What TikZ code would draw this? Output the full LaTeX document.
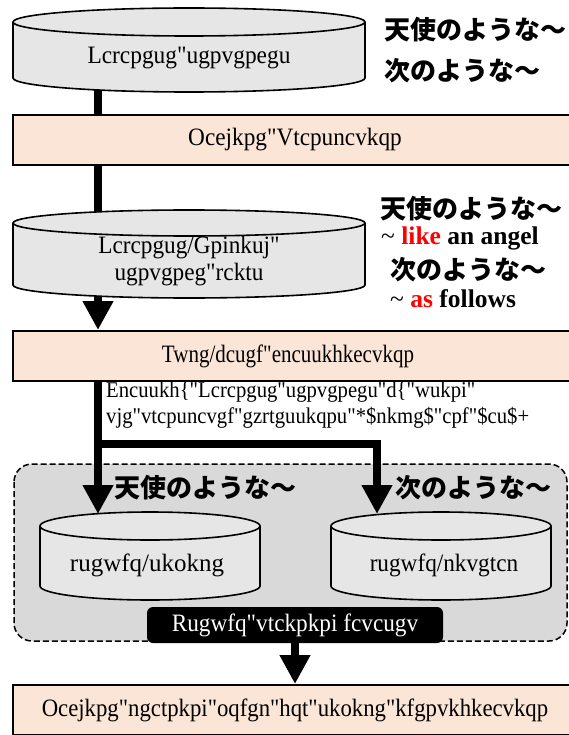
\documentclass[tikz,border=0pt]{standalone}
\usepackage{fontspec}
\usepackage{graphicx}
\setmainfont{Liberation Serif}[Ligatures=TeXOff]
\newfontfamily\jp{Noto Sans CJK JP}
\usetikzlibrary{arrows.meta}

\pgfdeclarelayer{bg}
\pgfdeclarelayer{wires}
\pgfdeclarelayer{solids}
\pgfsetlayers{bg,wires,solids,main}

\definecolor{peach}{HTML}{FBE5D6}
\definecolor{cylgray}{HTML}{E6E6E6}
\definecolor{zonegray}{HTML}{D9D9D9}

% horizontally narrowed text
\newcommand\narrow[2]{\scalebox{#1}[1]{#2}}

\tikzset{
  procbox/.style={draw=black, line width=2pt, fill=peach, minimum width=564pt,
    minimum height=50pt, inner sep=0pt, font=\fontsize{25}{28}\selectfont},
  cyltext/.style={font=\fontsize{25}{27}\selectfont, inner sep=0pt, align=center},
  jplabel/.style={font=\jp\bfseries\fontsize{26}{30}\selectfont, inner sep=0pt, anchor=west},
  enlabel/.style={font=\bfseries\fontsize{25.5}{28}\selectfont, inner sep=0pt, anchor=west},
  wire/.style={line width=8pt},
  flow/.style={line width=8pt, -{Triangle[width=29pt,length=29pt]}},
  cylline/.style={draw=black, line width=1.6pt, fill=cylgray},
  zone/.style={draw=black, line width=1.5pt, dash pattern=on 6pt off 3pt,
    fill=zonegray, rounded corners=18pt},
  darkbox/.style={fill=black, rounded corners=6pt, minimum width=296pt,
    minimum height=36pt, inner sep=0pt, text=white, font=\fontsize{25}{28}\selectfont},
}

% drum: centre x, top-ellipse y, bottom-ellipse y, x radius, y radius (y measured downward)
\newcommand\drum[5]{%
  \filldraw[cylline] (#1-#4,-#2) -- (#1-#4,-#3)
    arc[start angle=180,end angle=360,x radius=#4pt,y radius=#5pt]
    -- (#1+#4,-#2)
    arc[start angle=0,end angle=180,x radius=#4pt,y radius=#5pt] -- cycle;
  \draw[cylline, fill=none] (#1-#4,-#2)
    arc[start angle=180,end angle=360,x radius=#4pt,y radius=#5pt];
}

\begin{document}
\begin{tikzpicture}[x=1pt,y=1pt]
\useasboundingbox (0,0) rectangle (568,-735);

% grey zone holding the two pseudo data drums
\begin{pgfonlayer}{bg}
  \draw[zone] (14,-464) rectangle (567,-641);
\end{pgfonlayer}

% drums
\begin{pgfonlayer}{solids}
  \drum{189}{22}{78}{176}{14}
  \drum{189}{223}{285}{176}{13}
  \drum{150}{526}{586}{110}{14}
  \drum{441}{526}{586}{110}{14}
\end{pgfonlayer}

% drum texts
\node[cyltext] (t1) at (189,-58) {\narrow{0.935}{Lcrcpgug"ugpvgpegu}};
\node[cyltext] (t2) at (189,-261) {\narrow{0.93}{Lcrcpgug/Gpinkuj"}\\\narrow{0.93}{ugpvgpeg"rcktu}};
\node[cyltext] (t3) at (147,-565) {rugwfq/ukokng};
\node[cyltext] (t4) at (444,-565) {\narrow{0.93}{rugwfq/nkvgtcn}};

% process boxes
\node[procbox] (b1) at (295,-140) {\narrow{0.93}{Ocejkpg"Vtcpuncvkqp}};
\node[procbox] (b2) at (295,-356) {\narrow{0.84}{Twng/dcugf"encuukhkecvkqp}\hspace*{14pt}};
\node[procbox] (b3) at (295,-710) {\narrow{0.91}{Ocejkpg"ngctpkpi"oqfgn"hqt"ukokng"kfgpvkhkecvkqp}};
\node[darkbox] (bk) at (295,-625) {\narrow{0.93}{Rugwfq"vtckpkpi fcvcugv}};

% side labels
\node[jplabel] (j1) at (384,-30) {天使のような～};
\node[jplabel] (j2) at (384,-71) {次のような～};
\node[jplabel] (j3) at (380,-209) {天使のような～};
\node[enlabel] (e1) at (381,-238) {{\mdseries\textasciitilde} \textcolor{red}{like} an angel};
\node[jplabel] (j4) at (390,-270) {次のような～};
\node[enlabel] (e2) at (390,-299) {{\mdseries\textasciitilde} \textcolor{red}{as} follows};
\node[jplabel] (j5) at (114,-488) {天使のような～};
\node[jplabel] (j6) at (395,-488) {次のような～};

% explanation under the classification box
\node[anchor=west, align=left, inner sep=0pt, font=\fontsize{22.5}{26}\selectfont] (note)
  at (106,-405) {\narrow{0.92}{Encuukh\{"Lcrcpgug"ugpvgpegu"d\{"wukpi"}\\
  \narrow{0.92}{vjg"vtcpuncvgf"gzrtguukqpu"*\$nkmg\$"cpf"\$cu\$+}};

% contact points on the drums
\coordinate (d1out) at (98,-85);
\coordinate (d2in) at (98,-230);
\coordinate (d2out) at (98,-290);
\coordinate (fork) at (98,-444);
\coordinate (d3in) at (98,-514);
\coordinate (d4in) at (377,-514);

% connectors
\begin{pgfonlayer}{wires}
  \draw[wire] (d1out) -- (d1out |- b1.north);
  \draw[wire] (b1.south -| d2in) -- (d2in);
  \draw[flow] (d2out) -- (b2.north -| d2out);
  \draw[flow] (b2.south -| fork) -- (d3in);
  \draw[flow, line join=miter] (fork) -| (d4in);
  \draw[flow] (bk.south) -- (b3.north);
\end{pgfonlayer}
\end{tikzpicture}
\end{document}
